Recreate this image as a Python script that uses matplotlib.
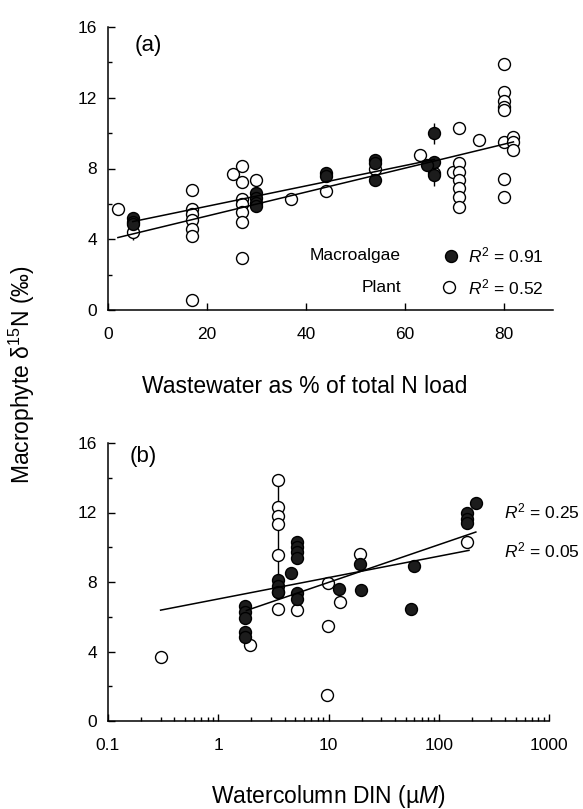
import numpy as np
import matplotlib
matplotlib.use('Agg')
import matplotlib.pyplot as plt

plt.rcParams['font.family'] = ['Liberation Sans', 'DejaVu Sans']
plt.rcParams['mathtext.fontset'] = 'custom'
plt.rcParams['mathtext.rm'] = 'Liberation Sans'
plt.rcParams['mathtext.it'] = 'Liberation Sans:italic'

# panel (a): wastewater % vs d15N
a_plant_x = [2, 5, 17, 17, 17, 17, 17, 17, 17, 25.3, 27, 27, 27, 27, 27, 27, 27, 30, 37, 44, 54, 63,
             66, 69.7, 71, 71, 71, 71, 71, 71, 71, 75, 80, 80, 80, 80, 80, 80, 80, 80, 82, 82, 82]
a_plant_y = [5.7, 4.4, 6.8, 5.7, 5.45, 5.1, 4.6, 4.2, 0.55, 7.7, 8.15, 7.25, 6.3, 6.0, 5.55, 5.0, 2.95,
             7.35, 6.27, 6.74, 8.0, 8.76, 7.76, 7.81, 10.3, 8.32, 7.81, 7.34, 6.87, 6.4, 5.8, 9.6,
             13.9, 12.3, 11.8, 11.45, 11.3, 9.5, 7.4, 6.4, 9.8, 9.5, 9.05]
a_macro_x = [5, 5, 5, 30, 30, 30, 30, 44, 44, 54, 54, 54, 66, 66, 64.6, 66]
a_macro_y = [5.2, 5.0, 4.85, 6.6, 6.35, 6.05, 5.9, 7.75, 7.6, 8.5, 8.3, 7.35, 9.98, 8.38, 8.19, 7.65]
a_err_x = [5, 66, 66]
a_err_y = [4.4, 9.98, 7.65]
a_err = [0.45, 0.6, 0.65]
# fitted lines: intercept, slope, x range
a_macro_fit = (4.71, 0.0576, 5, 66)
a_plant_fit = (3.96, 0.0676, 2, 82)

# panel (b): water column DIN vs d15N
b_plant_x = [0.3, 1.93, 3.5, 3.5, 3.5, 3.5, 3.5, 3.5, 3.5, 5.2, 9.9, 9.9, 9.7, 12.7, 19.5, 182]
b_plant_y = [3.7, 4.37, 13.85, 12.32, 11.78, 11.32, 9.54, 7.43, 6.42, 6.38, 7.95, 5.46, 1.5, 6.86, 9.6, 10.3]
b_macro_x = [1.76, 1.76, 1.76, 1.76, 1.76, 3.5, 3.5, 3.5, 4.6, 5.2, 5.2, 5.2, 5.2, 5.2, 5.2,
             12.4, 19.5, 19.8, 55.6, 59.7, 182, 182, 182, 217]
b_macro_y = [6.6, 6.25, 5.95, 5.1, 4.85, 8.1, 7.75, 7.45, 8.49, 10.3, 10.0, 9.7, 9.4, 7.34, 7.05,
             7.62, 9.06, 7.53, 6.47, 8.91, 11.95, 11.6, 11.4, 12.55]
b_range_x = 3.5
b_range_y = (7.43, 13.85)
# fits against log10(x)
b_macro_fit = (5.806, 2.17, 1.8, 217)
b_plant_fit = (7.023, 1.23, 0.3, 188)

r2_a = ['0.91', '0.52']
r2_b = ['0.25', '0.05']

fig = plt.figure(figsize=(5.83, 8.09), dpi=100)
ax1 = fig.add_axes([108/583, 1-310/809, 445/583, 283/809])
ax2 = fig.add_axes([108/583, 1-721/809, 441/583, 278/809])

ms = 8.6
open_kw = dict(marker='o', ms=ms, mfc='white', mec='black', mew=1.0, ls='none', zorder=3)
fill_kw = dict(marker='o', ms=ms, mfc='#1c1c1c', mec='black', mew=1.0, ls='none', zorder=4)

# (a)
ax1.errorbar(a_err_x, a_err_y, yerr=a_err, fmt='none', ecolor='black', elinewidth=1.0, zorder=2)
ax1.plot(a_plant_x, a_plant_y, **open_kw)
ax1.plot(a_macro_x, a_macro_y, **fill_kw)
for b0, b1, x0, x1 in [a_macro_fit, a_plant_fit]:
    xs = np.array([x0, x1])
    ax1.plot(xs, b0 + b1 * xs, color='black', lw=1.1, zorder=5)

ax1.set_xlim(0, 90)
ax1.set_ylim(0, 16)
ax1.set_xticks([0, 20, 40, 60, 80])
ax1.set_yticks([0, 4, 8, 12, 16])
ax1.set_yticks([2, 6, 10, 14], minor=True)
ax1.text(0.06, 0.935, '(a)', transform=ax1.transAxes, fontsize=16, va='center', ha='left')

ax1.text(0.658, 0.192, 'Macroalgae', transform=ax1.transAxes, fontsize=12.5, ha='right', va='center')
ax1.text(0.658, 0.078, 'Plant', transform=ax1.transAxes, fontsize=12.5, ha='right', va='center')
ax1.plot([0.770], [0.192], transform=ax1.transAxes, clip_on=False, **fill_kw)
ax1.plot([0.767], [0.083], transform=ax1.transAxes, clip_on=False, **open_kw)
ax1.text(0.81, 0.192, '$R^2$ = ' + r2_a[0], transform=ax1.transAxes, fontsize=12.5, ha='left', va='center')
ax1.text(0.81, 0.078, '$R^2$ = ' + r2_a[1], transform=ax1.transAxes, fontsize=12.5, ha='left', va='center')

# (b)
ax2.vlines(b_range_x, b_range_y[0], b_range_y[1], color='black', lw=1.0, zorder=2)
ax2.plot(b_plant_x, b_plant_y, **open_kw)
ax2.plot(b_macro_x, b_macro_y, **fill_kw)
for b0, b1, x0, x1 in [b_macro_fit, b_plant_fit]:
    xs = np.array([x0, x1])
    ax2.plot(xs, b0 + b1 * np.log10(xs), color='black', lw=1.1, zorder=5)

ax2.set_xscale('log')
ax2.set_xlim(0.1, 1000)
ax2.set_ylim(0, 16)
ax2.set_xticks([0.1, 1, 10, 100, 1000])
ax2.set_xticklabels(['0.1', '1', '10', '100', '1000'])
ax2.set_yticks([0, 4, 8, 12, 16])
ax2.set_yticks([2, 6, 10, 14], minor=True)
ax2.text(0.05, 0.95, '(b)', transform=ax2.transAxes, fontsize=16, va='center', ha='left')
ax2.text(0.897, 0.752, '$R^2$ = ' + r2_b[0], transform=ax2.transAxes, fontsize=12.5, ha='left', va='center')
ax2.text(0.897, 0.615, '$R^2$ = ' + r2_b[1], transform=ax2.transAxes, fontsize=12.5, ha='left', va='center')

for ax in (ax1, ax2):
    for s in ('top', 'right'):
        ax.spines[s].set_visible(False)
    for s in ('left', 'bottom'):
        ax.spines[s].set_linewidth(1.1)
    ax.tick_params(which='both', direction='in', width=1.0, labelsize=12.5)
    ax.tick_params(which='major', length=5)
    ax.tick_params(which='minor', length=3)
    ax.tick_params(axis='x', pad=12)
    ax.tick_params(axis='y', pad=8)

fig.text(305/583, 1-387/809, 'Wastewater as % of total N load', fontsize=16.5, ha='center', va='center')
fig.text(328/583, 1-797/809, 'Watercolumn DIN (µ$\\it{M}$)', fontsize=16.5, ha='center', va='center')
fig.text(22/583, 1-375/809, 'Macrophyte δ$^{15}$N (‰)', fontsize=16.5, ha='center', va='center', rotation=90)

fig.savefig('out.png', dpi=100)
